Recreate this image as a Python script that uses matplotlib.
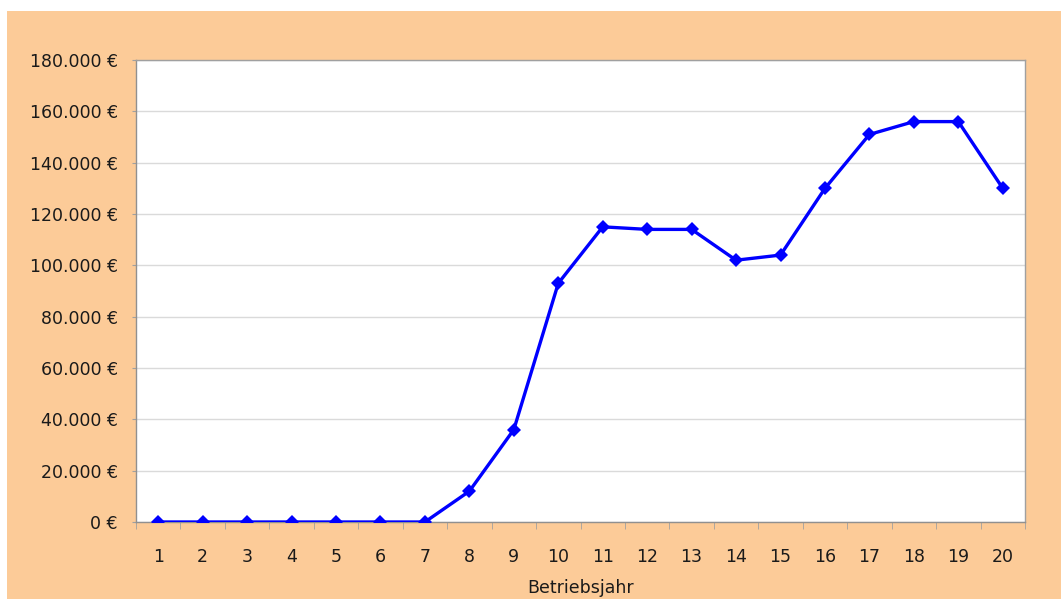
import numpy as np
import matplotlib
matplotlib.use("Agg")
import matplotlib.pyplot as plt
from matplotlib.patches import Rectangle
from matplotlib.ticker import FuncFormatter, MultipleLocator

years = list(range(1, 21))
values = [0, 0, 0, 0, 0, 0, 0, 12000, 36000, 93000, 115000, 114000, 114000,
          102000, 104000, 130000, 151000, 156000, 156000, 130000]
y_ticks = list(range(0, 180001, 20000))
x_label = "Betriebsjahr"

W, H = 1061, 599
fig = plt.figure(figsize=(W / 100, H / 100), dpi=100, facecolor="white")
fig.patches.append(Rectangle((7 / W, 0), 1 - 7 / W, 1 - 11 / H,
                             transform=fig.transFigure, facecolor="#FCCB98",
                             edgecolor="none", zorder=-10))

left, right, top, bottom = 136, 1025, 60, 522
ax = fig.add_axes([left / W, 1 - bottom / H, (right - left) / W, (bottom - top) / H])
ax.set_facecolor("white")

ax.plot(years, values, color="#0000FF", lw=2.4, zorder=3, solid_joinstyle="round",
        marker="D", markersize=7, markeredgewidth=0)

ax.set_xlim(0.5, 20.5)
ax.set_ylim(0, 180000)
ax.set_yticks(y_ticks)
ax.yaxis.set_major_formatter(FuncFormatter(lambda v, p: f"{int(v):,} €".replace(",", ".")))
ax.set_xticks(years)
ax.set_xticklabels([str(v) for v in years])
ax.xaxis.set_minor_locator(MultipleLocator(1, offset=0.5))

ax.grid(axis="y", color="#DADADA", lw=1.0)
ax.set_axisbelow(True)
for s in ax.spines.values():
    s.set_color("#A0A0A0")
    s.set_linewidth(1.0)
ax.spines["left"].set_color("#909090")
ax.spines["bottom"].set_color("#909090")

ax.tick_params(axis="x", which="major", length=0, pad=19, labelsize=12.5, labelcolor="#1A1A1A")
ax.tick_params(axis="x", which="minor", length=5, color="#A0A0A0", direction="out")
ax.tick_params(axis="y", which="major", length=3, color="#A0A0A0", pad=10, labelsize=12.5,
               labelcolor="#1A1A1A")

ax.set_xlabel(x_label, fontsize=12.5, color="#1A1A1A", labelpad=9)

fig.savefig("out.png", dpi=100, facecolor=fig.get_facecolor())
